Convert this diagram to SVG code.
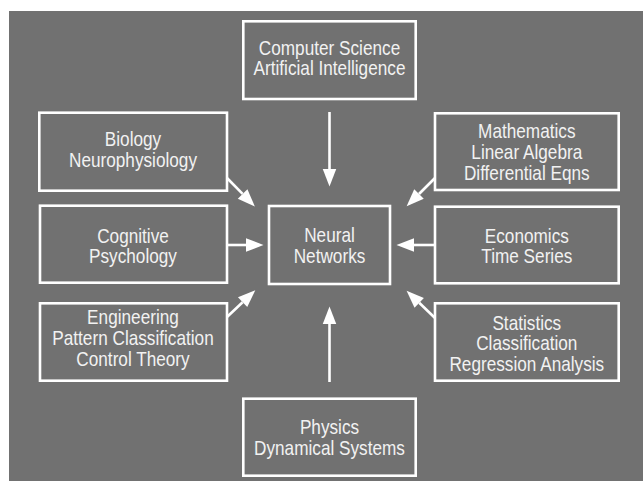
<svg xmlns="http://www.w3.org/2000/svg" width="643" height="481" viewBox="0 0 643 481">
<style>
.box{fill:none;stroke:#ffffff;stroke-width:2.6}
.lbl{font-family:"Liberation Sans",Arial,Helvetica,sans-serif;font-size:20px;fill:#f2f2f2;text-anchor:middle}
.conn{fill:none;stroke:#ffffff;stroke-width:2.6;marker-end:url(#ah)}
</style>
<defs>
<marker id="ah" markerUnits="userSpaceOnUse" markerWidth="18" markerHeight="14" refX="0" refY="6.75" orient="auto" overflow="visible">
<path d="M0,0 L17.5,6.75 L0,13.5 Z" fill="#ffffff"/>
</marker>
</defs>
<rect x="0" y="0" width="643" height="481" fill="#ffffff"/>
<rect x="9" y="11" width="634" height="470" fill="#717171"/>

<g id="cs">
<rect class="box" x="243.3" y="21.3" width="172.4" height="77.7"/>
<text class="lbl" transform="translate(329.5 0) scale(0.86 1)"><tspan x="0" y="55">Computer Science</tspan><tspan x="0" y="75">Artificial Intelligence</tspan></text>
</g>
<g id="biology">
<rect class="box" x="39.3" y="112.7" width="187.7" height="78"/>
<text class="lbl" transform="translate(133 0) scale(0.86 1)"><tspan x="0" y="145.7">Biology</tspan><tspan x="0" y="166.8">Neurophysiology</tspan></text>
</g>
<g id="cognitive">
<rect class="box" x="40" y="205.7" width="187" height="77"/>
<text class="lbl" transform="translate(133 0) scale(0.86 1)"><tspan x="0" y="242.7">Cognitive</tspan><tspan x="0" y="263">Psychology</tspan></text>
</g>
<g id="engineering">
<rect class="box" x="40" y="303.3" width="187" height="77.4"/>
<text class="lbl" transform="translate(133 0) scale(0.86 1)"><tspan x="0" y="324.5">Engineering</tspan><tspan x="0" y="345.5">Pattern Classification</tspan><tspan x="0" y="366">Control Theory</tspan></text>
</g>
<g id="math">
<rect class="box" x="435" y="113.3" width="183.7" height="76.7"/>
<text class="lbl" transform="translate(526.8 0) scale(0.86 1)"><tspan x="0" y="138.3">Mathematics</tspan><tspan x="0" y="159.2">Linear Algebra</tspan><tspan x="0" y="180">Differential Eqns</tspan></text>
</g>
<g id="economics">
<rect class="box" x="435" y="206.7" width="183.7" height="76.6"/>
<text class="lbl" transform="translate(526.8 0) scale(0.86 1)"><tspan x="0" y="242.7">Economics</tspan><tspan x="0" y="262.7">Time Series</tspan></text>
</g>
<g id="statistics">
<rect class="box" x="435" y="303.3" width="183.7" height="77.4"/>
<text class="lbl" transform="translate(526.8 0) scale(0.86 1)"><tspan x="0" y="330">Statistics</tspan><tspan x="0" y="350.2">Classification</tspan><tspan x="0" y="370.7">Regression Analysis</tspan></text>
</g>
<g id="physics">
<rect class="box" x="243.3" y="398.7" width="172.4" height="77"/>
<text class="lbl" transform="translate(329.5 0) scale(0.86 1)"><tspan x="0" y="434.3">Physics</tspan><tspan x="0" y="455">Dynamical Systems</tspan></text>
</g>
<g id="neural">
<rect class="box" x="269" y="206" width="121" height="78"/>
<text class="lbl" transform="translate(329.5 0) scale(0.86 1)"><tspan x="0" y="241.7">Neural</tspan><tspan x="0" y="262.7">Networks</tspan></text>
</g>

<g id="connectors">
<path class="conn" d="M329.5,112 L329.5,169"/>
<path class="conn" d="M329.5,382 L329.5,324"/>
<path class="conn" d="M227,245 L246,245"/>
<path class="conn" d="M435,245 L414,245"/>
<path class="conn" d="M227,178 L242.6,193.9"/>
<path class="conn" d="M435,178 L419,194"/>
<path class="conn" d="M227,317 L242.6,302.2"/>
<path class="conn" d="M435,318 L419.2,302.8"/>
</g>
</svg>
